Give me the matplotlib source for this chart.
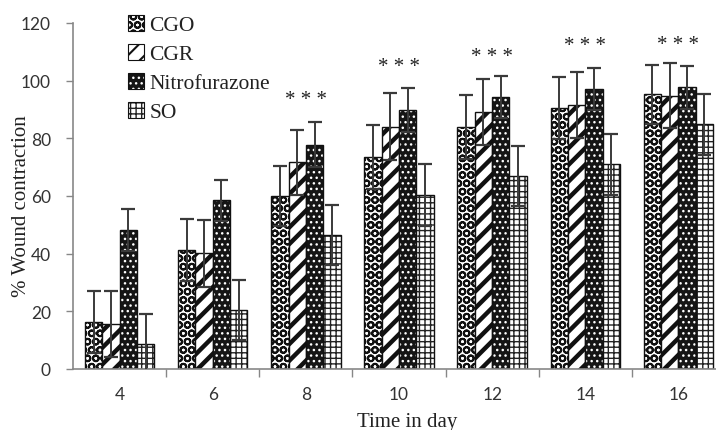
import numpy as np
import matplotlib
matplotlib.use("Agg")
import matplotlib.pyplot as plt
from matplotlib.patches import Patch
from matplotlib.colors import to_rgba

days = ["4", "6", "8", "10", "12", "14", "16"]
series = ["CGO", "CGR", "Nitrofurazone", "SO"]
cgo = [16.2, 41.3, 60.0, 73.5, 84.0, 90.5, 95.3]
cgr = [15.6, 40.2, 71.7, 84.0, 89.2, 91.5, 94.8]
nitro = [48.2, 58.5, 77.8, 89.8, 94.2, 97.1, 97.7]
so = [8.8, 20.5, 46.5, 60.3, 67.0, 71.0, 84.8]
cgo_err = [10.8, 10.7, 10.5, 11.0, 11.0, 10.7, 10.2]
cgr_err = [11.4, 11.6, 11.3, 11.6, 11.4, 11.4, 11.2]
nitro_err = [7.3, 7.2, 7.8, 7.5, 7.3, 7.3, 7.5]
so_err = [10.4, 10.5, 10.5, 10.7, 10.5, 10.5, 10.6]
star_days = ["8", "10", "12", "14", "16"]
star_heights = [93.4, 105.0, 108.4, 112.1, 112.4]

W, H = 716, 431
fig = plt.figure(figsize=(W / 100, H / 100), dpi=100)
ax = fig.add_axes([73 / W, (H - 370) / H, 652 / W, 346 / H])

serif = "Liberation Serif"
x = np.arange(len(days))
bw = 0.186
vals = [cgo, cgr, nitro, so]
errs = [cgo_err, cgr_err, nitro_err, so_err]
styles = [
    dict(fc="white", hatch="OO", hc="#111111", hlw=1.4),
    dict(fc="white", hatch="//", hc="#111111", hlw=3.2),
    dict(fc="#151515", hatch="...", hc="white", hlw=1.0),
    dict(fc="white", hatch="+++", hc="#222222", hlw=1.0),
]

def style_patch(p, st):
    if hasattr(p, "set_hatch_linewidth"):
        p.set_hatch_linewidth(st["hlw"])
    p._hatch_color = to_rgba(st["hc"])

for i, (v, e, st) in enumerate(zip(vals, errs, styles)):
    with plt.rc_context({"hatch.linewidth": st["hlw"]}):
        bars = ax.bar(x + (i - 1.5) * bw, v, bw, facecolor=st["fc"], edgecolor="#111111",
                      linewidth=1.0, hatch=st["hatch"], zorder=2)
        for b in bars:
            style_patch(b, st)
    ax.errorbar(x + (i - 1.5) * bw, v, yerr=e, fmt="none", ecolor="#3a3a3a",
                elinewidth=1.4, capsize=5, capthick=1.6, zorder=3)

for d, h in zip(star_days, star_heights):
    xi = days.index(d)
    ax.text(xi, h, "* * *", ha="center", va="center", fontsize=15,
            family=serif, color="#222222", zorder=4)

ax.set_xlim(-0.5, 6.5)
ax.set_ylim(0, 120)
ax.set_yticks(np.arange(0, 121, 20))
ax.set_xticks(x)
ax.set_xticklabels(days)
ax.set_xticks(np.arange(0.5, 6.0, 1.0), minor=True)
ax.tick_params(axis="x", which="major", length=0, pad=12)
ax.tick_params(axis="x", which="minor", length=6, width=1, color="#878787", direction="out")
ax.tick_params(axis="y", length=5, width=1, color="#878787", pad=11)
for lab in ax.get_xticklabels() + ax.get_yticklabels():
    lab.set_family("Lato")
    lab.set_fontsize(12.5)
    lab.set_color("#333333")

for s in ["top", "right"]:
    ax.spines[s].set_visible(False)
for s in ["left", "bottom"]:
    ax.spines[s].set_color("#878787")
    ax.spines[s].set_linewidth(1.2)

ax.set_ylabel("% Wound contraction", family=serif, fontsize=15, color="#222222")
ax.set_xlabel("Time in day", family=serif, fontsize=15, color="#222222")
ax.yaxis.set_label_coords((22 - 73) / 652, (370 - 206) / 346)
ax.xaxis.set_label_coords((407 - 73) / 652, (370 - 423) / 346)
ax.xaxis.label.set_va("center")
ax.yaxis.label.set_va("center")

handles = []
for st in styles:
    with plt.rc_context({"hatch.linewidth": min(st["hlw"], 1.5)}):
        p = Patch(facecolor=st["fc"], edgecolor="#111111", hatch=st["hatch"], linewidth=0.8)
    handles.append(p)
leg = fig.legend(handles, series, loc="upper left", bbox_to_anchor=(117 / W, 1 - 5 / H),
                 bbox_transform=fig.transFigure, frameon=False, borderpad=0,
                 handlelength=0.75, handleheight=0.75, handletextpad=0.25,
                 labelspacing=0.4, prop={"family": serif, "size": 15.5})
for p, st in zip(leg.get_patches(), styles):
    style_patch(p, dict(st, hlw=min(st["hlw"], 1.5)))
for t in leg.get_texts():
    t.set_color("#222222")

fig.savefig("out.png", dpi=100)
